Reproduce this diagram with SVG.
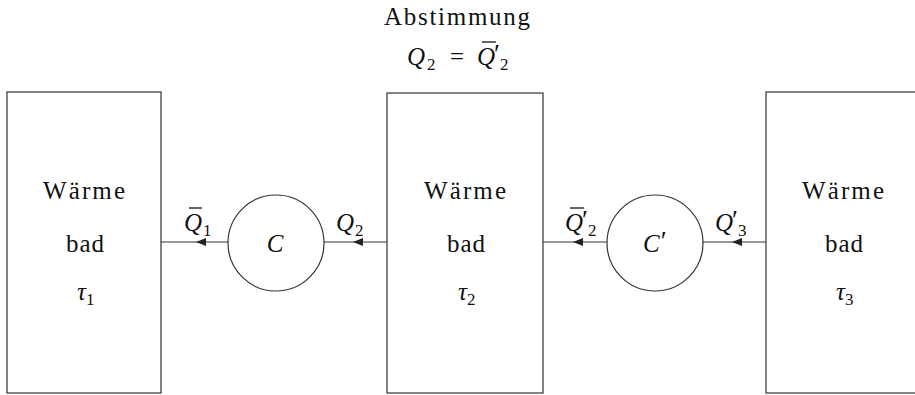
<svg xmlns="http://www.w3.org/2000/svg" width="915" height="395" viewBox="0 0 915 395">
<defs>
<style>
text{font-family:'Liberation Serif','DejaVu Serif',serif;fill:#111}
.t{font-size:25px}
.m{font-style:italic;font-size:25px}
.s{font-style:normal;font-size:17px}
.p{font-style:normal;font-size:27px}
.box{fill:#fff;stroke:#333;stroke-width:1.2}
.edge{fill:none;stroke:#333;stroke-width:1.2}
.bar{stroke:#111;stroke-width:1.3}
</style>
<marker id="ah" viewBox="0 0 10 8" refX="10" refY="4" markerWidth="10" markerHeight="8" markerUnits="userSpaceOnUse" orient="auto">
<path d="M0,0 L10,4 L0,8 z" fill="#222"/>
</marker>
</defs>
<rect width="915" height="395" fill="#fff"/>

<g id="title">
<text class="t" x="457" y="25" text-anchor="middle" textLength="146" lengthAdjust="spacing">Abstimmung</text>
<text class="m" x="407" y="65">Q<tspan class="s" x="427" y="70">2</tspan><tspan class="t" font-style="normal" x="450" y="65">=</tspan><tspan x="477" y="65">Q</tspan><tspan class="p" x="494" y="63">′</tspan><tspan class="s" x="500" y="70">2</tspan></text>
<line class="bar" x1="482" y1="42" x2="496" y2="42"/>
</g>

<g id="connectors">
<path class="edge" d="M387,242 L353,242 L324,242" marker-mid="url(#ah)"/>
<path class="edge" d="M228,242 L196,242 L161,242" marker-mid="url(#ah)"/>
<path class="edge" d="M766,242 L732,242 L703,242" marker-mid="url(#ah)"/>
<path class="edge" d="M607,242 L573,242 L543,242" marker-mid="url(#ah)"/>
</g>

<g id="bath1">
<rect class="box" x="7" y="92" width="154" height="301"/>
<text class="t" x="84" y="199" text-anchor="middle" textLength="82" lengthAdjust="spacing">Wärme</text>
<text class="t" x="85" y="252" text-anchor="middle" textLength="38" lengthAdjust="spacing">bad</text>
<text class="m" x="77" y="300">τ<tspan class="s" dx="0" dy="5">1</tspan></text>
</g>

<g id="bath2">
<rect class="box" x="387" y="93" width="156" height="300"/>
<text class="t" x="465" y="199" text-anchor="middle" textLength="82" lengthAdjust="spacing">Wärme</text>
<text class="t" x="466" y="252" text-anchor="middle" textLength="38" lengthAdjust="spacing">bad</text>
<text class="m" x="458" y="300">τ<tspan class="s" dx="0" dy="5">2</tspan></text>
</g>

<g id="bath3">
<rect class="box" x="766" y="92" width="160" height="301"/>
<text class="t" x="843" y="199" text-anchor="middle" textLength="82" lengthAdjust="spacing">Wärme</text>
<text class="t" x="844" y="252" text-anchor="middle" textLength="38" lengthAdjust="spacing">bad</text>
<text class="m" x="836" y="300">τ<tspan class="s" dx="0" dy="5">3</tspan></text>
</g>

<g id="engineC">
<circle class="box" cx="276" cy="243" r="48"/>
<text class="m" x="275" y="252" text-anchor="middle">C</text>
</g>

<g id="engineC2">
<circle class="box" cx="655" cy="243" r="48"/>
<text class="m" x="643" y="252">C<tspan class="p" dx="1" dy="-2">′</tspan></text>
</g>

<g id="labels">
<text class="m" x="184" y="231">Q<tspan class="s" dx="1" dy="5">1</tspan></text>
<line class="bar" x1="189" y1="208" x2="202" y2="208"/>

<text class="m" x="336" y="231">Q<tspan class="s" dx="1" dy="5">2</tspan></text>

<text class="m" x="565" y="231">Q<tspan class="p" x="582" y="229">′</tspan><tspan class="s" x="588" y="236">2</tspan></text>
<line class="bar" x1="570" y1="208" x2="584" y2="208"/>

<text class="m" x="715" y="231">Q<tspan class="p" x="732" y="229">′</tspan><tspan class="s" x="738" y="236">3</tspan></text>
</g>
</svg>
